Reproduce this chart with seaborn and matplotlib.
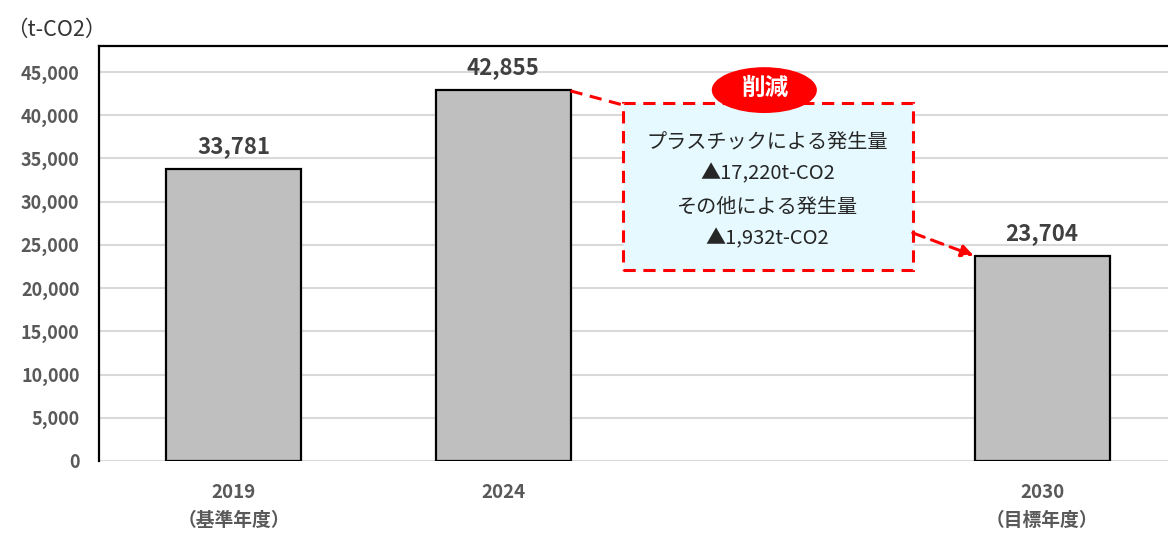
import numpy as np
import pandas as pd
import matplotlib.pyplot as plt
import seaborn as sns
from matplotlib.patches import Rectangle, Ellipse
from matplotlib.ticker import FuncFormatter

# datos del gráfico
categorias = ["2019\n（基準年度）", "2024", " ", "2030\n（目標年度）"]
anios = ["2019\n（基準年度）", "2024", "2030\n（目標年度）"]
emisiones = [33781, 42855, 23704]
textos_caja = ["プラスチックによる発生量", "▲17,220t-CO2", "その他による発生量", "▲1,932t-CO2"]

sns.set_style("white")
plt.rcParams['font.family'] = ['Noto Sans CJK JP', 'DejaVu Sans']

df = pd.DataFrame({'anio': anios, 'emision': emisiones})

fig = plt.figure(figsize=(11.68, 5.34), dpi=100)
ax = fig.add_axes([99 / 1168, 73 / 534, 1 - 99 / 1168, 415 / 534])

sns.barplot(data=df, x='anio', y='emision', order=categorias, color='#bfbfbf',
            saturation=1, width=0.5, edgecolor='black', linewidth=1.6, ax=ax, zorder=3)

ax.set_xlim(-0.5, 3.467)
ax.set_ylim(0, 48000)
ax.set_yticks(np.arange(0, 45001, 5000))
ax.yaxis.set_major_formatter(FuncFormatter(lambda v, p: f"{int(v):,}"))
ax.grid(axis='y', color='#d9d9d9', linewidth=1.5, zorder=0)
ax.set_axisbelow(True)

for lado in ['bottom', 'right']:
    ax.spines[lado].set_visible(False)
for lado in ['left', 'top']:
    ax.spines[lado].set_color('black')
    ax.spines[lado].set_linewidth(1.6)

ax.tick_params(axis='both', length=0)
ax.tick_params(axis='y', pad=14)
ax.tick_params(axis='x', pad=16)
for t in ax.get_yticklabels():
    t.set_fontsize(13)
    t.set_fontweight('bold')
    t.set_color('#595959')
for t in ax.get_xticklabels():
    t.set_fontsize(13.5)
    t.set_fontweight('bold')
    t.set_color('#595959')
    t.set_linespacing(1.55)
ax.set_xlabel('')
ax.set_ylabel('')

# etiquetas de valores encima de las barras
for i, cat in enumerate(categorias):
    if cat in anios:
        v = emisiones[anios.index(cat)]
        ax.annotate(f"{v:,}", (i, v), xytext=(0, 8), textcoords='offset points',
                    ha='center', va='bottom', fontsize=16, fontweight='bold', color='#404040')

fig.text(6 / 1168, 1 - 30 / 534, "（t-CO2）", fontsize=15.5, color='#333333', va='center', ha='left')

# caja de reducción
caja = Rectangle((1.443, 22100), 2.52 - 1.443, 41400 - 22100, facecolor='#e6f9fe',
                 edgecolor='#ff0000', linewidth=2.2, linestyle=(0, (4, 2.5)), zorder=5)
ax.add_patch(caja)
ys = [36750, 33200, 29300, 25750]
for y, txt in zip(ys, textos_caja):
    ax.text(1.98, y, txt, ha='center', va='center', fontsize=14.5, color='#262626', zorder=6)

ax.add_patch(Ellipse((1.969, 42900), 0.39, 5300, facecolor='#ff0000', edgecolor='none', zorder=6))
ax.text(1.969, 43100, "削減", ha='center', va='center', fontsize=17, fontweight='bold',
        color='white', zorder=7)

# flechas discontinuas
ax.plot([1.25, 1.443], [42805, 41185], color='#ff0000', linewidth=2.2,
        linestyle=(0, (4, 2.5)), zorder=6)
ax.annotate("", xy=(2.746, 23750), xytext=(2.52, 26380),
            arrowprops=dict(arrowstyle='-|>', color='#ff0000', lw=2.2, linestyle=(0, (4, 2.5)),
                            mutation_scale=18, shrinkA=0, shrinkB=0), zorder=6)

plt.savefig('out.png', dpi=100)
